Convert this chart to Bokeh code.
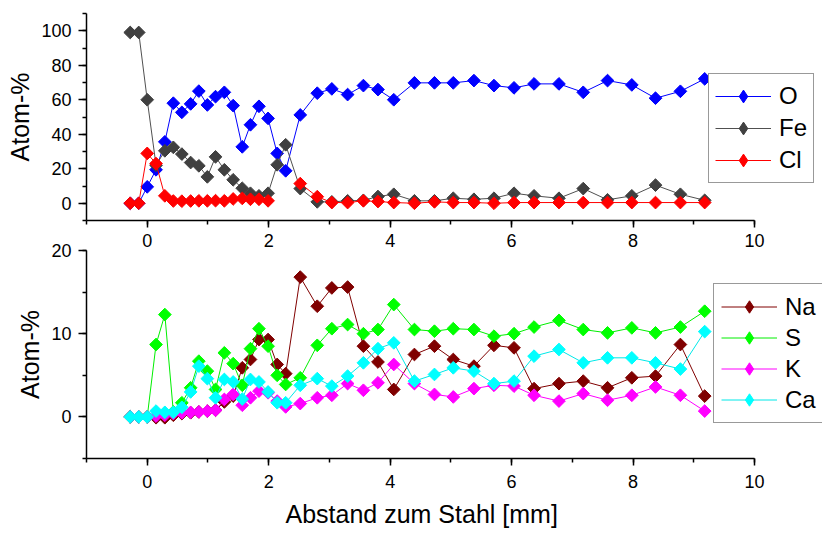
import numpy as np
from bokeh.plotting import figure
from bokeh.models import Range1d, SingleIntervalTicker, Legend, LegendItem, Title
from bokeh.layouts import column
from bokeh.embed import file_html
from bokeh.resources import INLINE

nan = float("nan")

# distance from steel [mm]
x = [-0.28, -0.14, 0.0, 0.145, 0.29, 0.43, 0.57, 0.715, 0.85, 0.99,
     1.125, 1.27, 1.415, 1.565, 1.70, 1.84, 1.99, 2.14, 2.28, 2.52,
     2.80, 3.04, 3.30, 3.56, 3.80, 4.06, 4.40, 4.73, 5.04, 5.38,
     5.71, 6.04, 6.37, 6.78, 7.18, 7.58, 7.98, 8.37, 8.78, 9.18]

# upper panel (Atom-%)
O = [0, 0, 9.5, 19.4, 35.6, 58, 52.7, 57.6, 65, 57,
     61.8, 64.3, 56.6, 32.7, 45.5, 56.2, 49.2, 28.9, 18.8, 51.2,
     63.8, 66.3, 63, 68.2, 65.9, 60, 69.8, 69.8, 69.8, 71.1,
     68.2, 66.9, 69.2, 69.2, 64.3, 71.1, 68.6, 60.9, 64.9, 72.1]
Fe = [99, 99, 60, 22, 30.4, 32.4, 28.5, 23.6, 21.7, 15.3,
      26.9, 19.4, 13.6, 8.7, 5.8, 4.3, 5.8, 22.3, 33.9, 8.5,
      0.8, 0.8, 1.4, 1.7, 3.9, 5.2, 1.4, 1.4, 2.9, 2.3,
      2.9, 5.8, 4.3, 2.9, 8.5, 2.0, 4.3, 10.5, 5.2, 1.7]
Cl = [0, 0, 28.9, 23, 4.3, 1.3, 1.2, 1.3, 1.4, 1.4,
      1.5, 1.4, 2.5, 2.8, 2.3, 2.3, 1.4, nan, nan, 11.4,
      3.8, 0.4, 0.4, 1.4, 1.0, 0.4, 0.0, 0.8, 0.4, 0.4,
      0.0, 0.4, 0.4, 0.4, 0.4, 0.4, 0.4, 0.4, 0.4, 0.4]

# lower panel (Atom-%)
Na = [0, 0, 0, -0.1, -0.1, 0.2, 0.4, 0.5, 0.6, 0.7,
      0.8, 1.8, 2.5, 5.9, 6.9, 9.3, 9.3, 6.3, 5.2, 16.8,
      13.3, 15.5, 15.6, 8.5, 6.6, 3.3, 7.5, 8.5, 6.9, 6.1,
      8.6, 8.3, 3.4, 4.0, 4.3, 3.5, 4.7, 4.9, 8.7, 2.5]
S = [0, 0, 0, 8.7, 12.3, 0.6, 1.7, 3.5, 6.7, 5.5,
     3.3, 7.7, 6.4, 3.8, 8.2, 10.6, 8.5, 5.0, 3.9, 4.7,
     8.6, 10.6, 11.1, 10.0, 10.5, 13.5, 10.5, 10.3, 10.6, 10.5,
     9.7, 10.0, 10.8, 11.6, 10.5, 10.1, 10.7, 10.1, 10.8, 12.7]
K = [0, 0, 0, 0.1, 0.2, 0.4, 0.5, 0.55, 0.6, 0.7,
     0.8, 2.1, 2.7, 1.4, 2.3, 3.1, 2.9, 1.9, 1.2, 1.6,
     2.3, 2.6, 4.0, 3.2, 4.1, 6.3, 4.0, 2.7, 2.4, 3.4,
     3.8, 3.7, 2.6, 1.9, 2.8, 2.0, 2.6, 3.6, 2.6, 0.7]
Ca = [0, 0, 0, 0.7, 0.55, 0.55, 1.15, 3.0, 6.1, 4.6,
      2.3, 4.5, 4.2, 2.15, 4.5, 4.2, 3.0, 1.7, 1.7, 3.8,
      4.6, 3.7, 4.9, 6.5, 8.2, 8.9, 4.3, 5.1, 5.9, 5.5,
      4.0, 4.3, 7.3, 8.1, 6.5, 7.1, 7.1, 6.5, 5.75, 10.25]

top_series = [("O", O, "#0000ff", "#0000ff"),
              ("Fe", Fe, "#505050", "#404040"),
              ("Cl", Cl, "#ff0000", "#ff0000")]
bottom_series = [("Na", Na, "#800000", "#800000"),
                 ("S", S, "#00ee00", "#00ff00"),
                 ("K", K, "#ff00ff", "#ff00ff"),
                 ("Ca", Ca, "#00e8e8", "#00ffff")]

FONT = "Liberation Sans"
X_MIN, X_MAX, X_VIEW_MAX = -1, 10, 11.12


def style_axes(p, ytick):
    for ax in (p.xaxis[0], p.yaxis[0]):
        ax.axis_line_width = 1.5
        ax.axis_line_color = "black"
        ax.major_tick_line_width = 1.5
        ax.minor_tick_line_width = 1.5
        ax.major_tick_line_color = "black"
        ax.minor_tick_line_color = "black"
        ax.major_tick_in = 0
        ax.minor_tick_in = 0
        ax.major_tick_out = 8
        ax.minor_tick_out = 4
        ax.major_label_text_font = FONT
        ax.major_label_text_font_size = "18px"
        ax.major_label_text_color = "black"
        ax.axis_label_text_font = FONT
        ax.axis_label_text_font_size = "25px"
        ax.axis_label_text_font_style = "normal"
        ax.axis_label_text_color = "black"
    p.xaxis[0].ticker = SingleIntervalTicker(interval=2, num_minor_ticks=2)
    p.xaxis[0].bounds = (X_MIN, X_MAX)
    p.yaxis[0].ticker = SingleIntervalTicker(interval=ytick, num_minor_ticks=2)
    p.xaxis[0].major_tick_out = 7
    p.xaxis[0].major_label_standoff = 6
    p.yaxis[0].major_label_standoff = 7
    p.yaxis[0].axis_label_standoff = 4
    p.xgrid.visible = False
    p.ygrid.visible = False
    p.outline_line_color = None


def add_series(p, series, loc, padding, row):
    items = []
    for name, vals, lc, mc in series:
        lr = p.line(x, vals, line_color=lc, line_width=1)
        p.scatter(x, vals, marker="square", angle=np.pi / 4, size=9,
                  fill_color=mc, line_color=mc)
        # marker used only for the legend key (nothing is drawn in the plot area)
        kr = p.scatter([nan], [nan], marker="diamond", size=14, fill_color=mc, line_color=mc)
        items.append(LegendItem(label=name, renderers=[lr, kr]))
    leg = Legend(items=items, location=loc, padding=padding, spacing=0,
                 label_height=row, glyph_height=row, glyph_width=56,
                 label_standoff=8, margin=0,
                 label_text_font=FONT, label_text_font_size="24px",
                 label_text_color="black",
                 border_line_color="#333333", border_line_width=1,
                 background_fill_color="white", background_fill_alpha=1)
    p.add_layout(leg)


p1 = figure(width=822, height=268, x_range=Range1d(X_MIN, X_VIEW_MAX), y_range=Range1d(-10, 110),
            output_backend="svg", toolbar_location=None,
            min_border_left=86, min_border_right=0, min_border_top=13, min_border_bottom=48)
p1.yaxis.axis_label = "Atom-%"
style_axes(p1, 20)
add_series(p1, top_series, (622, 37), 6, 32)

p2 = figure(width=822, height=302, x_range=p1.x_range, y_range=Range1d(-5, 20),
            output_backend="svg", toolbar_location=None,
            min_border_left=86, min_border_right=0, min_border_top=18, min_border_bottom=76,
            background_fill_alpha=0, border_fill_alpha=0)
p2.margin = (-36, 0, 0, 0)
p2.yaxis.axis_label = "Atom-%"
style_axes(p2, 10)
p2.xaxis[0].major_label_standoff = 9
p2.add_layout(Title(text="Abstand zum Stahl [mm]", align="left", offset=199,
                    text_font=FONT, text_font_size="25px", text_font_style="normal",
                    text_color="black", standoff=14), "below")
add_series(p2, bottom_series, (627, 35), 7, 31)

layout = column(p1, p2, spacing=0)

open("out.html", "w").write(file_html(layout, INLINE))
